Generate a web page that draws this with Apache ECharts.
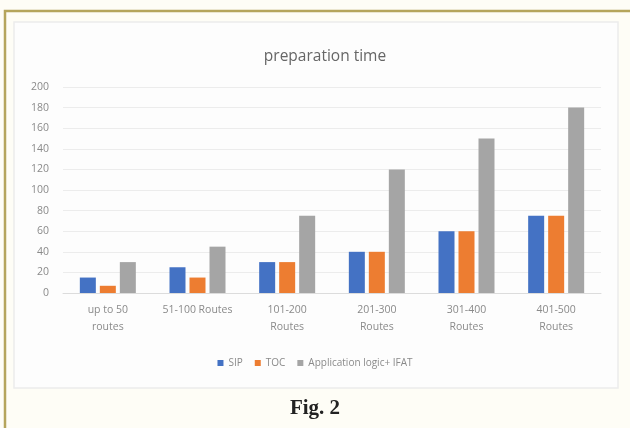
<!DOCTYPE html>
<html><head><meta charset="utf-8">
<script src="https://cdn.jsdelivr.net/npm/echarts@6/dist/echarts.min.js"></script>
<style>html,body{margin:0;padding:0;background:#fefdf6;}#c{width:630px;height:428px;}</style>
</head><body><div id="c"></div>
<script>
const categories = ["up to 50\nroutes", "51-100 Routes", "101-200\nRoutes", "201-300\nRoutes", "301-400\nRoutes", "401-500\nRoutes"];
const sip = [15, 25, 30, 40, 60, 75];
const toc = [7, 15, 30, 40, 60, 75];
const appLogic = [30, 45, 75, 120, 150, 180];
const seriesNames = ["SIP", "TOC", "Application logic+ IFAT"];
const yTicks = {min: 0, max: 200, interval: 20};

const chart = echarts.init(document.getElementById('c'));
const lbl = {color: '#8a8a8a', fontFamily: 'Open Sans', fontSize: 10.5};
chart.setOption({
  backgroundColor: '#fefdf6',
  animation: false,
  graphic: [
    {type: 'rect', shape: {x: 5, y: 11, width: 640, height: 430}, style: {fill: 'none', stroke: '#b5a55c', lineWidth: 2.5}, z: -10},
    {type: 'rect', shape: {x: 14, y: 22, width: 604, height: 366}, style: {fill: '#fdfdfd', stroke: '#ececec', lineWidth: 1.5}, z: -9},
    {type: 'text', left: 'center', top: 398, style: {text: 'Fig. 2', font: 'bold 21px "Liberation Serif"', fill: '#222'}, z: 10}
  ],
  title: {text: 'preparation time', left: 320, textAlign: 'center', top: 44,
    textStyle: {color: '#666', fontFamily: 'Open Sans', fontWeight: 'normal', fontSize: 15.5}},
  legend: {bottom: 55, left: 'center', itemWidth: 6, itemHeight: 6, itemGap: 12, icon: 'rect',
    textStyle: {color: '#8a8a8a', fontFamily: 'Open Sans', fontSize: 10}, data: seriesNames},
  grid: {left: 63, right: 29, top: 87, bottom: 135},
  xAxis: {type: 'category', data: categories,
    axisLine: {lineStyle: {color: '#dcdcdc'}}, axisTick: {show: false},
    axisLabel: Object.assign({margin: 9, lineHeight: 17, interval: 0}, lbl)},
  yAxis: {type: 'value', min: yTicks.min, max: yTicks.max, interval: yTicks.interval,
    axisLine: {show: false}, axisTick: {show: false},
    axisLabel: Object.assign({margin: 14}, lbl),
    splitLine: {lineStyle: {color: '#ececec'}}},
  series: [
    {name: seriesNames[0], type: 'bar', data: sip, barWidth: 16, barGap: '25%', itemStyle: {color: '#4472c4'}},
    {name: seriesNames[1], type: 'bar', data: toc, barWidth: 16, barGap: '25%', itemStyle: {color: '#ed7d31'}},
    {name: seriesNames[2], type: 'bar', data: appLogic, barWidth: 16, barGap: '25%', itemStyle: {color: '#a5a5a5'}}
  ]
});
</script></body></html>
